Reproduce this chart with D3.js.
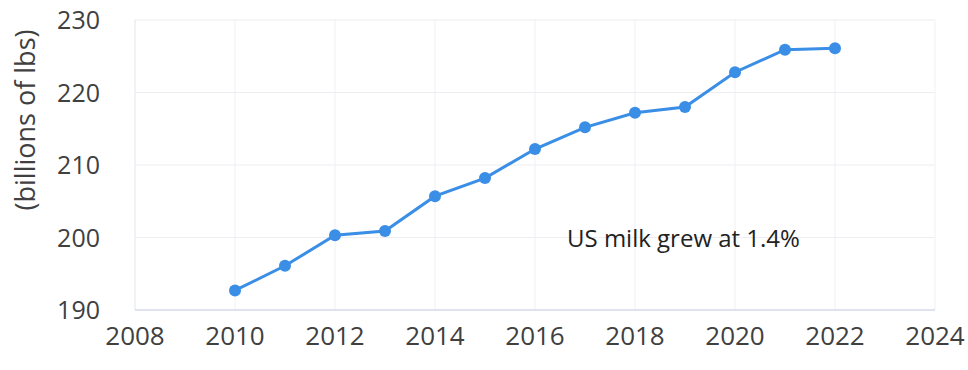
<!DOCTYPE html>
<html>
<head>
<meta charset="utf-8">
<script src="https://cdn.jsdelivr.net/npm/d3@7"></script>
<style>
	body { margin: 0; background: #fff; }
	text { font-family: 'Open Sans', sans-serif; fill: #404040; }
</style>
</head>
<body>
<div id="chart_div" style="width:968px;height:370px;"></div>
<script>
var years = [2010, 2011, 2012, 2013, 2014, 2015, 2016, 2017, 2018, 2019, 2020, 2021, 2022];
var milk = [192.7, 196.1, 200.3, 200.9, 205.7, 208.2, 212.2, 215.2, 217.2, 218.0, 222.8, 225.9, 226.1];
var x_ticks = [2008, 2010, 2012, 2014, 2016, 2018, 2020, 2022, 2024];
var y_ticks = [190, 200, 210, 220, 230];
var y_title = '(billions of lbs)';
var note = 'US milk grew at 1.4%';

function draw_chart(div_id) {
	var svg = d3.select('#' + div_id).append('svg')
		.attr('width', 968)
		.attr('height', 370);

	var x = d3.scaleLinear().domain([2008, 2024]).range([135, 935]);
	var y = d3.scaleLinear().domain([190, 230]).range([310, 20]);

	// grid
	svg.append('g')
		.selectAll('line')
		.data(y_ticks.slice(1))
		.enter()
		.append('line')
		.attr('x1', x(2008))
		.attr('x2', x(2024))
		.attr('y1', (d) => y(d))
		.attr('y2', (d) => y(d))
		.attr('stroke', '#ededf2')
		.attr('stroke-width', 1);

	svg.append('g')
		.selectAll('line')
		.data(x_ticks.slice(1))
		.enter()
		.append('line')
		.attr('x1', (d) => x(d))
		.attr('x2', (d) => x(d))
		.attr('y1', y(230))
		.attr('y2', y(190))
		.attr('stroke', '#f1f1f4')
		.attr('stroke-width', 1);

	// axis lines
	svg.append('line')
		.attr('x1', x(2008)).attr('x2', x(2008))
		.attr('y1', y(230)).attr('y2', y(190))
		.attr('stroke', '#e4e6ef');
	svg.append('line')
		.attr('x1', x(2008)).attr('x2', x(2024))
		.attr('y1', y(190)).attr('y2', y(190))
		.attr('stroke', '#d4d8ea')
		.attr('stroke-width', 1.5);

	// tick labels
	svg.append('g')
		.selectAll('text')
		.data(x_ticks)
		.enter()
		.append('text')
		.attr('x', (d) => x(d))
		.attr('y', 345)
		.attr('text-anchor', 'middle')
		.attr('font-size', 26)
		.text((d) => d);

	svg.append('g')
		.selectAll('text')
		.data(y_ticks)
		.enter()
		.append('text')
		.attr('x', 100)
		.attr('y', (d) => y(d))
		.attr('dy', '0.36em')
		.attr('text-anchor', 'end')
		.attr('font-size', 25)
		.text((d) => d);

	svg.append('text')
		.attr('transform', 'translate(35,120) rotate(-90)')
		.attr('text-anchor', 'middle')
		.attr('font-size', 27)
		.text(y_title);

	// series
	var pts = years.map((d, i) => [d, milk[i]]);
	var line = d3.line().x((d) => x(d[0])).y((d) => y(d[1]));
	svg.append('path')
		.datum(pts)
		.attr('d', line)
		.attr('fill', 'none')
		.attr('stroke', '#3a8ee6')
		.attr('stroke-width', 3);

	svg.append('g')
		.selectAll('circle')
		.data(pts)
		.enter()
		.append('circle')
		.attr('cx', (d) => x(d[0]))
		.attr('cy', (d) => y(d[1]))
		.attr('r', 6)
		.attr('fill', '#3a8ee6');

	svg.append('text')
		.attr('x', 567)
		.attr('y', 247)
		.attr('font-size', 24)
		.style('fill', '#222')
		.text(note);
}

draw_chart('chart_div');
</script>
</body>
</html>
